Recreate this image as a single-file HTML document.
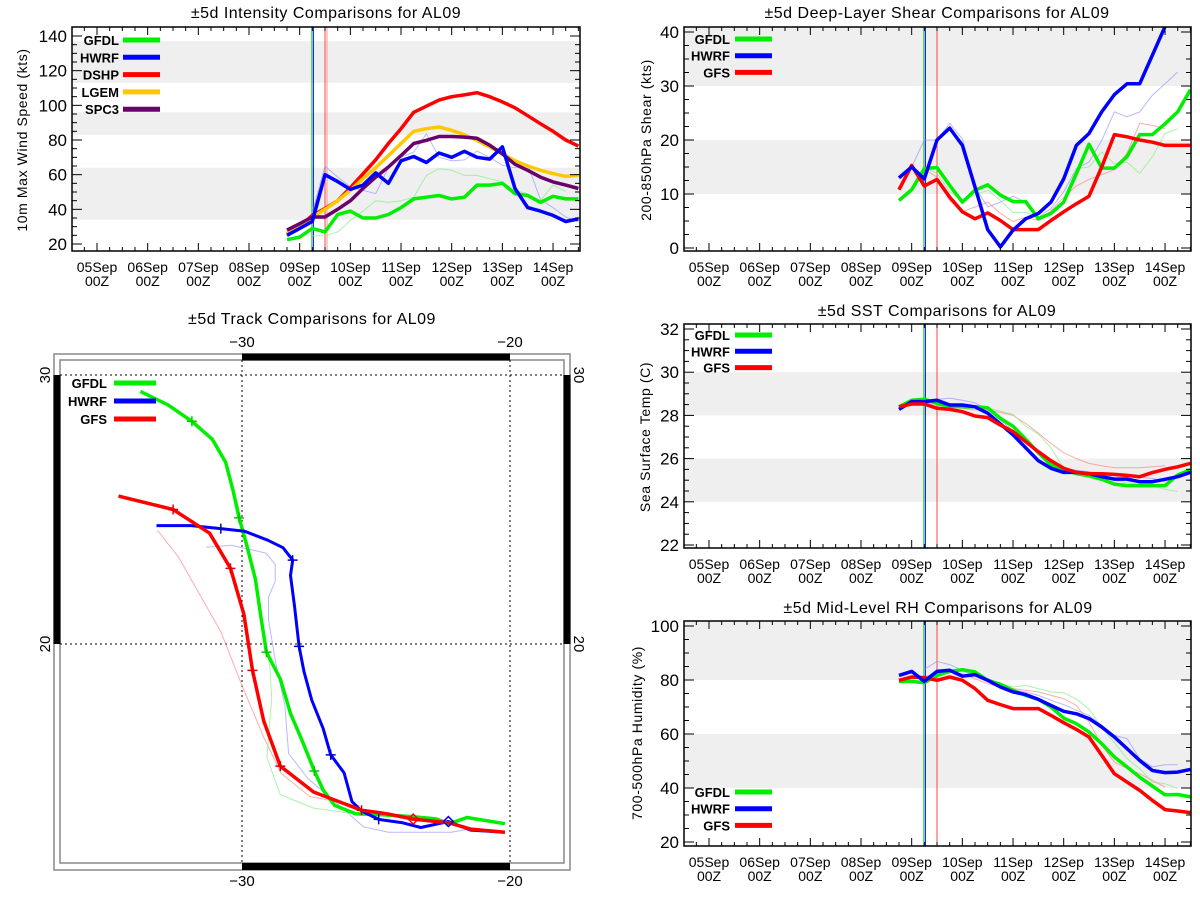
<!DOCTYPE html>
<html><head><meta charset="utf-8"><style>
html,body{margin:0;padding:0;background:#fff;}
svg{display:block;font-family:"Liberation Sans","DejaVu Sans",sans-serif;}
</style></head><body>
<svg id="root" width="1200" height="900" viewBox="0 0 1200 900" xmlns="http://www.w3.org/2000/svg"></svg>
<script>
// ---------- shared time axis (days since 05Sep 00Z, 6-hourly) ----------
const times = [3.75,4,4.25,4.5,4.75,5,5.25,5.5,5.75,6,6.25,6.5,6.75,7,7.25,7.5,7.75,8,8.25,8.5,8.75,9,9.25,9.5];
const dayLabels = ["05Sep","06Sep","07Sep","08Sep","09Sep","10Sep","11Sep","12Sep","13Sep","14Sep"];
const markerTimes = [4.24,4.5];

// ---------- intensity (kt) ----------
const intTicks = [20,40,60,80,100,120,140];
const intGFDL = [22.5,24,29,27,37,39,35,35,37,41,46,47,48,46,47,54,54,55,49,48,44,47.5,46,46];
const intHWRF = [25,29,33,60,56,51.5,54,61,55,68,70.5,67,72.5,70,73.5,70,69,76,52,41,39,36.5,33,34.5];
const intDSHP = [26,30,36.5,40.5,45,52.5,60.5,68.6,78,86.5,96,99.5,103,105,106,107.3,105,102,98.6,94,89.4,85,80,76.5];
const intLGEM = [26,29.5,35.6,40,45,51,57.7,64,71,78,85,86.5,87.5,85.6,83,79.8,76,72,68,65,62.5,60.6,59,59.6];
const intSPC3 = [28,31.7,35.6,35.6,40,45,52,58.6,64.4,71,78,79.8,82,82,81.7,81,77,72,66,62.5,58.6,55.8,54,52];
const intFaintRed = [null,null,null,40,null,51.6,null,66,null,80.6,null,91,null,98,null,100,null,96,null,88.5,null,79,null,null];
const intFaintBlue = [null,28.7,38,65,58.6,53,51,49,64,70,73,83.6,70,68,68.5,73.6,70,65.4,64,66,45.6,41,35.6,32.7];
const intFaintGreen = [null,null,24.8,24.8,27,33.6,39,45,44,45,47,59.6,63.5,62.5,59.6,59.6,57.7,55.8,51,49,45,54,50.4,null];

// ---------- shear (kt) ----------
const shTicks = [0,10,20,30,40];
const shGFDL = [8.8,10.8,14.7,14.9,11.6,8.5,10.7,11.7,9.8,8.6,8.6,5.4,6.4,8.5,13.8,19.2,14.8,14.8,16.9,21,21,23,25.2,29.3];
const shHWRF = [13,15,12.8,20,22.2,19,11.3,3.4,0.2,3.3,5.4,6.4,8.5,12.8,19,21.2,25.2,28.4,30.4,30.4,35.7,41,46,50];
const shGFS = [10.8,15.3,11.5,12.7,9.4,6.7,5.4,6.5,5.1,3.4,3.4,3.4,5.1,6.7,8.2,9.6,15,21,20.6,20,19.6,19,19,19];
const shFaintBlue = [null,15,20,20,23.1,20.2,11.3,7.6,8.5,9.6,8.5,5.7,7.3,10.4,14.7,15.9,19.9,25.2,24.3,25.2,28.3,30.4,32.6,null];
const shFaintRed = [null,null,14.7,13.1,8.8,6.7,7.6,8.5,6.4,4.9,5.7,5.1,6.9,9.4,11.5,12.7,13.6,14.5,17.6,23.1,22.7,22.1,null,null];
const shFaintGreen = [null,null,14.9,13.8,10.4,8.8,9.8,10.7,8.8,6.6,6.6,5.7,6.4,8.8,14.7,15,17.8,15.6,15.9,13.8,16.9,21.2,22.1,null];

// ---------- SST (C) ----------
const sstTicks = [22,24,26,28,30,32];
const sstGFDL = [28.4,28.7,28.75,28.55,28.42,28.4,28.4,28.35,27.86,27.5,26.9,26.27,25.7,25.5,25.3,25.2,25.04,24.82,24.75,24.75,24.75,24.75,25.24,25.48];
const sstHWRF = [28.28,28.64,28.64,28.7,28.48,28.48,28.4,28.1,27.6,27.1,26.5,25.9,25.55,25.36,25.36,25.3,25.16,25.05,25.05,24.93,24.93,25.04,25.16,25.36];
const sstGFS = [28.4,28.53,28.53,28.33,28.28,28.17,27.97,27.9,27.55,27.25,26.78,26.32,25.9,25.55,25.36,25.3,25.3,25.27,25.22,25.16,25.35,25.5,25.62,25.78];
const sstFaintRed = [null,null,28.64,28.4,28.37,28.33,28.25,28.25,28.14,28.0,27.63,27.17,26.7,26.27,26.0,25.78,25.67,25.58,25.58,25.58,25.62,25.67,null,null];
const sstFaintBlue = [null,null,null,28.74,28.8,28.7,28.58,28.27,27.78,27.3,26.85,26.23,25.77,25.54,25.46,25.39,25.31,25.2,25.15,25.15,25.08,24.93,null,null];
const sstFaintGreen = [null,null,null,28.6,28.52,28.45,28.37,28.33,28.2,28.05,27.5,27.13,26.5,25.58,25.4,25.3,25.16,24.99,24.88,24.8,24.73,24.58,24.47,null];

// ---------- RH (%) ----------
const rhTicks = [20,40,60,80,100];
const rhGFDL = [79.5,79.5,79,81.7,83.2,83.8,83,79.9,78.4,76.2,74.3,72.8,70,65.9,63.8,60.7,56.4,51.5,47.8,44,40.7,37.5,37.6,36.7];
const rhHWRF = [81.7,83.2,79.5,83.2,83.6,81.4,82,79.9,77.4,75.6,74.6,72.8,70.6,68.4,67.5,65.7,62.6,58.9,54.6,50.2,46.5,45.7,45.9,46.9];
const rhGFS = [79.9,81.1,80.9,79.9,81.1,79.9,76.8,72.5,70.9,69.4,69.4,69.4,66.9,64.2,61.7,58.9,52.1,45.3,42.2,39.1,35.4,32,31.5,30.9];
const rhFaintBlue = [null,null,84,86.9,85.7,83.6,81.7,80.5,78.6,76.2,75.6,74.3,72.5,70.9,68.8,66.9,63.2,59.5,58.3,50.9,47.8,48.6,48.6,null];
const rhFaintGreen = [null,null,80.5,82.3,83.2,83.2,81.7,79.9,78.6,77.4,78,76.8,75.6,75.3,72.9,69.2,62.4,56.9,50.9,47.2,42.2,41.6,39.8,null];
const rhFaintRed = [null,null,81.1,82.9,83.6,82.3,80.5,78.6,77.4,76.8,76.2,75.6,74.3,73.1,70.6,64.4,55.8,49.6,47.2,45.3,42.8,40.4,null,null];

// ---------- track (lon, lat) ----------
const trkGFDLlon = [-33.79,-32.76,-31.87,-31.11,-30.61,-30.33,-30.11,-29.83,-29.5,-29.29,-29.09,-28.57,-28.19,-27.76,-27.3,-26.97,-26.54,-25.76,-24.76,-23.61,-22.76,-22.26,-21.61,-20.19];
const trkGFDLlat = [29.39,28.89,28.28,27.61,26.75,25.68,24.69,23.69,22.41,20.98,19.7,18.7,17.42,16.42,15.28,14.57,14.0,13.69,13.65,13.58,13.5,13.32,13.55,13.32];
const trkHWRFlon = [-33.19,-31.9,-30.79,-29.9,-29.04,-28.47,-28.11,-28.19,-28.04,-27.87,-27.69,-27.4,-26.97,-26.69,-26.19,-25.9,-25.54,-24.9,-24.04,-23.33,-22.3,-21.47,-20.19];
const trkHWRFlat = [24.4,24.4,24.29,24.19,23.86,23.58,23.12,22.55,21.41,19.91,18.99,17.92,16.85,15.88,15.21,14.15,13.79,13.48,13.36,13.18,13.4,13.08,13.0];
const trkGFSlon = [-34.61,-32.57,-31.21,-30.43,-29.93,-29.61,-29.19,-28.57,-27.33,-25.54,-24.61,-23.61,-22.26,-21.47,-20.19];
const trkGFSlat = [25.5,25.0,24.12,22.81,21.1,19.02,17.14,15.46,14.5,13.82,13.69,13.49,13.35,13.12,13.0];
const trkGFDLplus = [2,6,10,14];
const trkHWRFplus = [2,6,9,13,17];
const trkGFSplus = [1,3,5,7,9];
const trkFaintRedLon = [-33.16,-32.37,-30.79,-30.0,-29.19,-28.54,-27.47,-25.61];
const trkFaintRedLat = [24.23,23.23,20.46,18.46,16.54,15.19,14.33,13.98];
const trkFaintBlueLon = [-31.33,-30.4,-29.11,-28.76,-28.76,-29.01,-29.01,-28.76,-28.4,-28.26,-27.54,-26.54,-25.47,-24.54,-22.19,-21.4];
const trkFaintBlueLat = [23.6,23.67,23.38,22.96,22.32,21.75,20.9,19.4,17.69,15.93,15.0,14.15,13.21,13.0,13.0,13.14];
const trkFaintGreenLon = [-30.61,-30.17,-29.89,-29.43,-29.17,-28.96,-28.89,-29.07,-28.57,-27.33,-25.54];
const trkFaintGreenLat = [26.69,25.26,23.98,21.99,20.42,19.13,17.99,15.78,14.4,13.9,13.65];

const NS = "http://www.w3.org/2000/svg";
const root = document.getElementById("root");
function mk(tag, attrs, parent){
  const e = document.createElementNS(NS, tag);
  for (const k in attrs) e.setAttribute(k, attrs[k]);
  (parent||root).appendChild(e);
  return e;
}
function txt(s, x, y, size, anchor, parent, extra){
  const t = mk("text", Object.assign({x:x, y:y, "font-size":size, "text-anchor":anchor||"middle", fill:"#000"}, extra||{}), parent);
  t.textContent = s;
  return t;
}

function tsChart(cfg){
  const g = mk("g", {});
  
  
  const X = d => cfg.x0 + cfg.dx*d;
  const Y = v => cfg.yA - (v-cfg.vA)*cfg.ky;
  const cid = cfg.name + "-clip";
  const cp = mk("clipPath", {id:cid}, g);
  mk("rect", {x:cfg.L, y:cfg.T, width:cfg.R-cfg.L, height:cfg.B-cfg.T}, cp);
  // bands
  cfg.bands.forEach(b => {
    const y1 = Math.max(cfg.T, Y(b[1])), y2 = Math.min(cfg.B, Y(b[0]));
    const r = mk("rect", {x:cfg.L, y:y1, width:cfg.R-cfg.L, height:y2-y1, fill:"#efefef"}, g);
    
    
  });
  // init time lines
  const tl = [["#00dd00",markerTimes[0]],["#0000ff",markerTimes[0]+0.03],["#ff4444",markerTimes[1]]];
  tl.forEach(t => {
    const l = mk("line", {x1:X(t[1]), x2:X(t[1]), y1:cfg.T, y2:cfg.B, stroke:t[0], "stroke-width":1}, g);
    
    
  });
  if (cfg.pink) { const l = mk("line", {x1:X(markerTimes[1])+2, x2:X(markerTimes[1])+2, y1:cfg.T, y2:cfg.B, stroke:"#ff9999", "stroke-width":1}, g); }
  // series
  const sg = mk("g", {"clip-path":"url(#"+cid+")"}, g);
  cfg.series.forEach(s => {
    let d = "", pen = false;
    s.vals.forEach((v,i) => {
      if (v === null) { pen = false; return; }
      d += (pen ? "L" : "M") + X(times[i]).toFixed(1) + "," + Y(v).toFixed(1);
      pen = true;
    });
    const p = mk("path", {d:d, fill:"none", stroke:s.color, "stroke-width":s.w, "stroke-opacity":s.op||1, "stroke-linejoin":"round"}, sg);
    
    
  });
  // frame
  const fr = mk("rect", {x:cfg.L, y:cfg.T, width:cfg.R-cfg.L, height:cfg.B-cfg.T, fill:"none", stroke:"#000", "stroke-width":1.5}, g);
  
  
  // x ticks
  for (let q=-2; q<=38; q++){
    const d = q*0.25, x = X(d);
    if (x<=cfg.L+0.5 || x>=cfg.R-0.5) continue;
    const len = (q%4===0)?8:4;
    mk("line", {x1:x,x2:x,y1:cfg.B,y2:cfg.B-len,stroke:"#000","stroke-width":1}, g);
    mk("line", {x1:x,x2:x,y1:cfg.T,y2:cfg.T+len,stroke:"#000","stroke-width":1}, g);
  }
  dayLabels.forEach((lab,i) => {
    const t1 = txt(lab, X(i), cfg.B+21, 14, "middle", g);
    
    
    const t2 = txt("00Z", X(i), cfg.B+35, 14, "middle", g);
    
    
  });
  // y ticks
  const step = cfg.ticks[1]-cfg.ticks[0];
  for (let k=0; k<cfg.ticks.length; k++){
    const v = cfg.ticks[k];
    for (let m=0; m<4; m++){
      const vv = v + m*step/4, y = Y(vv);
      if (y<cfg.T+0.5 || y>cfg.B-0.5) continue;
      const len = m===0?10:5;
      mk("line", {x1:cfg.L,x2:cfg.L+len,y1:y,y2:y,stroke:"#000","stroke-width":1}, g);
      mk("line", {x1:cfg.R,x2:cfg.R-len,y1:y,y2:y,stroke:"#000","stroke-width":1}, g);
    }
    const t = txt(String(v), cfg.L-5, Y(v)+6, 17, "end", g);
    
    
  }
  // titles
  const ti = txt(cfg.title, cfg.titleX, cfg.titleY, 16, "middle", g, {"letter-spacing":"0.5"});
  
  
  const yt = txt(cfg.ytitle, 0, 0, 14, "middle", g, {transform:"translate("+cfg.ytX+","+cfg.ytY+") rotate(-90)", "letter-spacing":"0.6"});
  
  
  // legend
  cfg.legend.forEach((e,i) => {
    const y = cfg.legY + i*cfg.legDy;
    const t = txt(e[0], cfg.legTx, y+5, 13, "end", g, {"font-weight":"bold"});
    
    
    const l = mk("line", {x1:cfg.legL, x2:cfg.legL+37, y1:y, y2:y, stroke:e[1], "stroke-width":5}, g);
    
    
  });
}

const W = 3.5;
tsChart({name:"intensity-chart", L:72,R:580,T:27,B:251, x0:97,dx:50.67, yA:244,vA:20,ky:1.7333, ticks:intTicks,
  bands:[[34,64],[83,96],[113,137]], pink:true,
  title:"±5d Intensity Comparisons for AL09", titleX:326, titleY:18,
  ytitle:"10m Max Wind Speed (kts)", ytX:27, ytY:140,
  legend:[["GFDL","#00ee00"],["HWRF","#0000ff"],["DSHP","#ff0000"],["LGEM","#ffc800"],["SPC3","#6a006a"]],
  legTx:119, legL:123, legY:40, legDy:17.3,
  series:[
    {label:"dshp-faint-line", vals:intFaintRed, color:"#ff8888", w:1, op:0.7},
    {label:"hwrf-faint-line", vals:intFaintBlue, color:"#8888ff", w:1, op:0.6},
    {label:"gfdl-faint-line", vals:intFaintGreen, color:"#88ee88", w:1, op:0.7},
    {label:"gfdl-line", vals:intGFDL, color:"#00ee00", w:W},
    {label:"dshp-line", vals:intDSHP, color:"#ff0000", w:W},
    {label:"lgem-line", vals:intLGEM, color:"#ffc800", w:W},
    {label:"spc3-line", vals:intSPC3, color:"#6a006a", w:W},
    {label:"hwrf-line", vals:intHWRF, color:"#0000ff", w:W}
  ]});

tsChart({name:"shear-chart", L:684,R:1191,T:27,B:251, x0:709,dx:50.67, yA:248,vA:0,ky:5.4, ticks:shTicks,
  bands:[[10,20],[30,45]],
  title:"±5d Deep-Layer Shear Comparisons for AL09", titleX:937, titleY:18,
  ytitle:"200-850hPa Shear (kts)", ytX:651, ytY:140,
  legend:[["GFDL","#00ee00"],["HWRF","#0000ff"],["GFS","#ff0000"]],
  legTx:730, legL:735, legY:39, legDy:16.7,
  series:[
    {label:"hwrf-faint-line", vals:shFaintBlue, color:"#8888ff", w:1, op:0.6},
    {label:"gfs-faint-line", vals:shFaintRed, color:"#ff8888", w:1, op:0.7},
    {label:"gfdl-faint-line", vals:shFaintGreen, color:"#88ee88", w:1, op:0.7},
    {label:"gfdl-line", vals:shGFDL, color:"#00ee00", w:W},
    {label:"gfs-line", vals:shGFS, color:"#ff0000", w:W},
    {label:"hwrf-line", vals:shHWRF, color:"#0000ff", w:W}
  ]});

tsChart({name:"sst-chart", L:684,R:1191,T:324,B:548, x0:709,dx:50.67, yA:545,vA:22,ky:21.6, ticks:sstTicks,
  bands:[[24,26],[28,30]],
  title:"±5d SST Comparisons for AL09", titleX:937, titleY:316,
  ytitle:"Sea Surface Temp (C)", ytX:650, ytY:437,
  legend:[["GFDL","#00ee00"],["HWRF","#0000ff"],["GFS","#ff0000"]],
  legTx:730, legL:735, legY:335, legDy:16.3,
  series:[
    {label:"gfs-faint-line", vals:sstFaintRed, color:"#ff8888", w:1, op:0.7},
    {label:"hwrf-faint-line", vals:sstFaintBlue, color:"#8888ff", w:1, op:0.6},
    {label:"gfdl-faint-line", vals:sstFaintGreen, color:"#88ee88", w:1, op:0.7},
    {label:"gfdl-line", vals:sstGFDL, color:"#00ee00", w:W},
    {label:"hwrf-line", vals:sstHWRF, color:"#0000ff", w:W},
    {label:"gfs-line", vals:sstGFS, color:"#ff0000", w:W}
  ]});

tsChart({name:"rh-chart", L:684,R:1191,T:621,B:846, x0:709,dx:50.67, yA:842,vA:20,ky:2.7, ticks:rhTicks,
  bands:[[40,60],[80,102]],
  title:"±5d Mid-Level RH Comparisons for AL09", titleX:938, titleY:613,
  ytitle:"700-500hPa Humidity (%)", ytX:642, ytY:733,
  legend:[["GFDL","#00ee00"],["HWRF","#0000ff"],["GFS","#ff0000"]],
  legTx:730, legL:735, legY:792, legDy:16.7,
  series:[
    {label:"hwrf-faint-line", vals:rhFaintBlue, color:"#8888ff", w:1, op:0.6},
    {label:"gfdl-faint-line", vals:rhFaintGreen, color:"#88ee88", w:1, op:0.7},
    {label:"gfs-faint-line", vals:rhFaintRed, color:"#ff8888", w:1, op:0.7},
    {label:"gfdl-line", vals:rhGFDL, color:"#00ee00", w:W},
    {label:"gfs-line", vals:rhGFS, color:"#ff0000", w:W},
    {label:"hwrf-line", vals:rhHWRF, color:"#0000ff", w:W}
  ]});

// ---------- track map ----------
(function(){
  const g = mk("g", {});
  
  
  const LX = lon => 242 + (lon+30)*26.8;
  const LY = lat => 644 - (lat-20)*26.9;
  const ti = txt("±5d Track Comparisons for AL09", 312, 324, 16, "middle", g, {"letter-spacing":"0.5"});
  
  
  mk("rect", {x:54,y:354,width:516,height:516,fill:"none",stroke:"#888","stroke-width":1.5}, g);
  mk("rect", {x:60,y:360,width:504,height:503,fill:"none",stroke:"#888","stroke-width":1.5}, g);
  // black frame bars
  mk("rect", {x:LX(-30),y:353.5,width:LX(-20)-LX(-30),height:7,fill:"#000"}, g);
  mk("rect", {x:LX(-30),y:863,width:LX(-20)-LX(-30),height:7,fill:"#000"}, g);
  mk("rect", {x:53.5,y:LY(30),width:7,height:LY(20)-LY(30),fill:"#000"}, g);
  mk("rect", {x:563.5,y:LY(30),width:7,height:LY(20)-LY(30),fill:"#000"}, g);
  // grid
  [-30,-20].forEach(lon => {
    const l = mk("line", {x1:LX(lon),x2:LX(lon),y1:360,y2:863,stroke:"#000","stroke-width":1,"stroke-dasharray":"2,3"}, g);
    
    
    txt("−"+String(-lon), LX(lon), 347, 15, "middle", g);
    txt("−"+String(-lon), LX(lon), 886, 15, "middle", g);
  });
  [30,20].forEach(lat => {
    const l = mk("line", {x1:60,x2:564,y1:LY(lat),y2:LY(lat),stroke:"#000","stroke-width":1,"stroke-dasharray":"2,3"}, g);
    
    
    txt(String(lat), 0, 0, 15, "middle", g, {transform:"translate(50,"+LY(lat)+") rotate(-90)"});
    txt(String(lat), 0, 0, 15, "middle", g, {transform:"translate(574,"+LY(lat)+") rotate(90)"});
  });
  function track(lons, lats, color, w, op, name){
    let d = "";
    lons.forEach((lo,i) => { d += (i?"L":"M") + LX(lo).toFixed(1) + "," + LY(lats[i]).toFixed(1); });
    const p = mk("path", {d:d, fill:"none", stroke:color, "stroke-width":w, "stroke-opacity":op, "stroke-linejoin":"round"}, g);
    
    
  }
  function plus(lons, lats, idx, color){
    idx.forEach(i => {
      const x = LX(lons[i]), y = LY(lats[i]);
      const m = mk("path", {d:"M"+(x-5)+","+y+"H"+(x+5)+"M"+x+","+(y-5)+"V"+(y+5), stroke:color, "stroke-width":1.5}, g);
      
      
    });
  }
  track(trkFaintRedLon, trkFaintRedLat, "#ff8888", 1, 0.7, "gfs-faint-track");
  track(trkFaintBlueLon, trkFaintBlueLat, "#8888ff", 1, 0.6, "hwrf-faint-track");
  track(trkFaintGreenLon, trkFaintGreenLat, "#88ee88", 1, 0.7, "gfdl-faint-track");
  track(trkGFDLlon, trkGFDLlat, "#00ee00", 3.5, 1, "gfdl-track");
  track(trkHWRFlon, trkHWRFlat, "#0000ff", 3, 1, "hwrf-track");
  track(trkGFSlon, trkGFSlat, "#ff0000", 3.5, 1, "gfs-track");
  plus(trkGFDLlon, trkGFDLlat, trkGFDLplus, "#00cc00");
  plus(trkHWRFlon, trkHWRFlat, trkHWRFplus, "#0000cc");
  plus(trkGFSlon, trkGFSlat, trkGFSplus, "#dd0000");
  function diamond(lon, lat, color){
    const x = LX(lon), y = LY(lat);
    const dm = mk("path", {d:"M"+x+","+(y-5)+"L"+(x+5)+","+y+"L"+x+","+(y+5)+"L"+(x-5)+","+y+"Z", fill:"none", stroke:color, "stroke-width":1.5}, g);
    
    
  }
  diamond(trkGFSlon[11], trkGFSlat[11], "#ff0000");
  diamond(trkHWRFlon[20], trkHWRFlat[20], "#0000ff");
  const leg = [["GFDL","#00ee00"],["HWRF","#0000ff"],["GFS","#ff0000"]];
  leg.forEach((e,i) => {
    const y = 383 + i*18;
    const t = txt(e[0], 107, y+5, 13, "end", g, {"font-weight":"bold"});
    
    
    const l = mk("line", {x1:114,x2:156,y1:y,y2:y,stroke:e[1],"stroke-width":5}, g);
    
    
  });
})();
</script>
</body></html>
